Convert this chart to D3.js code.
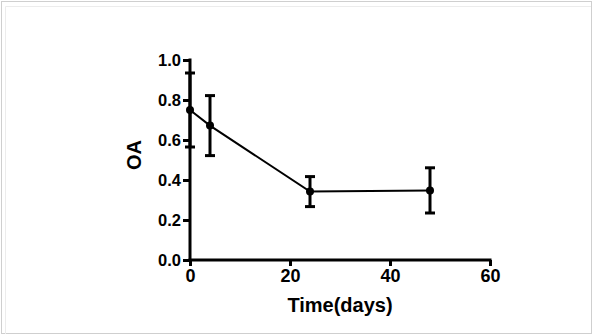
<!DOCTYPE html>
<html><head><meta charset="utf-8">
<script src="https://cdn.jsdelivr.net/npm/d3@7"></script>
<style>html,body{margin:0;padding:0;background:#fff;}svg{display:block;}</style>
</head><body>
<script>
const days = [0, 4, 24, 48];
const oa = [0.75, 0.672, 0.342, 0.348];
const errs = [0.185, 0.15, 0.075, 0.113];
const xTicks = [0, 20, 40, 60];
const yTicks = [0.0, 0.2, 0.4, 0.6, 0.8, 1.0];
const xLabel = "Time(days)";
const yLabel = "OA";

const W = 593, H = 336;
const svg = d3.select("body").append("svg").attr("width", W).attr("height", H);
svg.append("rect").attr("width", W).attr("height", H).attr("fill", "#fff");
// frame
svg.append("rect").attr("x", 1.5).attr("y", 1.5).attr("width", 590).attr("height", 332)
  .attr("fill", "none").attr("stroke", "#cfcfcf").attr("stroke-width", 1);
svg.append("path").attr("d", "M5.5,334V6.5H591").attr("fill", "none").attr("stroke", "#ececec");

const x = d3.scaleLinear().domain([0, 60]).range([190, 490]);
const y = d3.scaleLinear().domain([0, 1]).range([260, 60]);
const font = "Arial, 'Liberation Sans', sans-serif";

// y axis
const gy = svg.append("g").attr("transform", "translate(190,0)")
  .call(d3.axisLeft(y).tickValues(yTicks).tickFormat(d3.format(".1f")).tickSize(7).tickPadding(2));
gy.select(".domain").attr("stroke", "#000").attr("stroke-width", 3).attr("d", "M0,58.5V261.5");
gy.selectAll(".tick line").attr("stroke", "#000").attr("stroke-width", 3);
gy.selectAll(".tick text").attr("font-family", font).attr("font-weight", "bold")
  .attr("font-size", 16.5).attr("fill", "#000").attr("dy", "0.34em");

// x axis
const gx = svg.append("g").attr("transform", "translate(0,260)")
  .call(d3.axisBottom(x).tickValues(xTicks).tickSize(6).tickPadding(3));
gx.select(".domain").attr("stroke", "#000").attr("stroke-width", 3).attr("d", "M188.5,0H491.5");
gx.selectAll(".tick line").attr("stroke", "#000").attr("stroke-width", 3);
gx.selectAll(".tick text").attr("font-family", font).attr("font-weight", "bold")
  .attr("font-size", 18).attr("fill", "#000").attr("dy", "0.72em");

// axis titles
svg.append("text").attr("x", (x(0) + x(60)) / 2).attr("y", 312).attr("text-anchor", "middle")
  .attr("font-family", font).attr("font-weight", "bold").attr("font-size", 20).text(xLabel);
svg.append("text").attr("transform", "translate(141,155) rotate(-90)").attr("text-anchor", "middle")
  .attr("font-family", font).attr("font-weight", "bold").attr("font-size", 20).text(yLabel);

const data = days.map((d, i) => ({d, v: oa[i], e: errs[i]}));

// line
svg.append("path").datum(data)
  .attr("d", d3.line().x(p => x(p.d)).y(p => y(p.v)))
  .attr("fill", "none").attr("stroke", "#000").attr("stroke-width", 2);

// error bars
const eb = svg.append("g").attr("stroke", "#000").attr("stroke-width", 3);
data.forEach(p => {
  const cx = x(p.d);
  eb.append("line").attr("x1", cx).attr("x2", cx).attr("y1", y(p.v + p.e)).attr("y2", y(p.v - p.e));
  eb.append("line").attr("x1", cx - 5).attr("x2", cx + 5).attr("y1", y(p.v + p.e)).attr("y2", y(p.v + p.e));
  eb.append("line").attr("x1", cx - 5).attr("x2", cx + 5).attr("y1", y(p.v - p.e)).attr("y2", y(p.v - p.e));
});

// markers
svg.append("g").selectAll("circle").data(data).join("circle")
  .attr("cx", p => x(p.d)).attr("cy", p => y(p.v)).attr("r", 4).attr("fill", "#000");
</script>
</body></html>
